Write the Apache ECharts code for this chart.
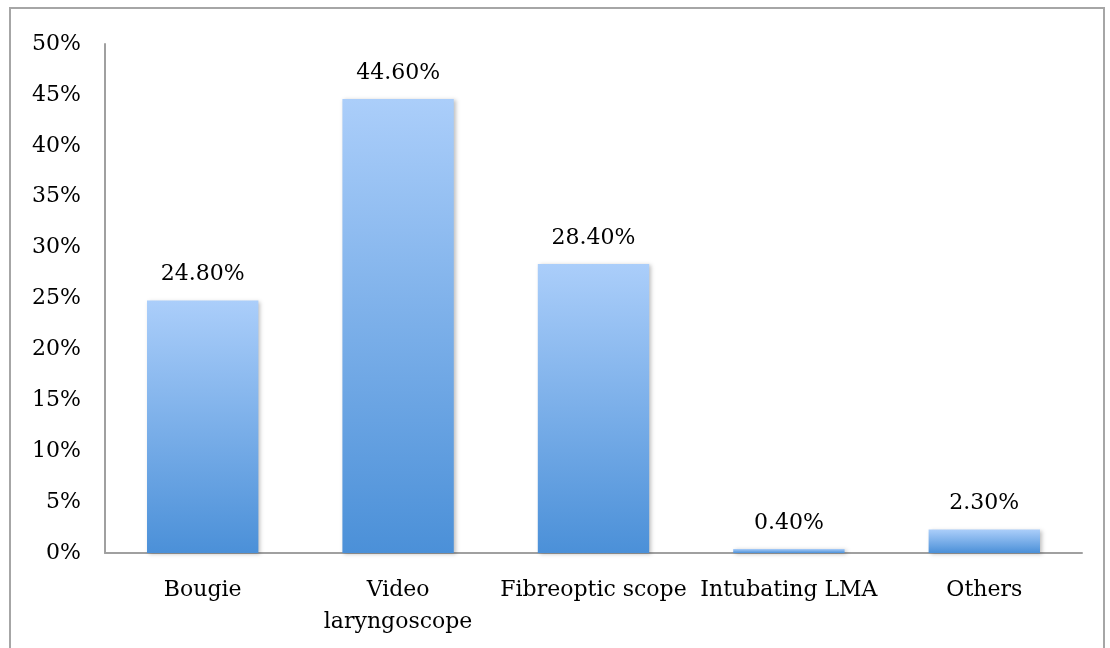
<!DOCTYPE html>
<html>
<head>
<meta charset="utf-8">
<script src="https://cdn.jsdelivr.net/npm/echarts@6/dist/echarts.min.js"></script>
<style>
  html, body { margin: 0; padding: 0; background: #fff; overflow: hidden; }
  #frame { position: absolute; left: 9px; top: 7px; width: 1096px; height: 700px;
           border: 2px solid #a6a6a6; box-sizing: border-box; }
  #chart { position: absolute; left: 0; top: 0; width: 1110px; height: 648px; }
</style>
</head>
<body>
<div id="frame"></div>
<div id="chart"></div>
<script>
// Device categories and their share (%)
const categories = ['Bougie', 'Video\nlaryngoscope', 'Fibreoptic scope', 'Intubating LMA', 'Others'];
const shares = [24.8, 44.6, 28.4, 0.4, 2.3];
const yTicks = { min: 0, max: 50, interval: 5 };

const FONT = '"DejaVu Serif", "Liberation Serif", serif';

const chart = echarts.init(document.getElementById('chart'));
chart.setOption({
  animation: false,
  grid: { left: 105, right: 28, top: 44, bottom: 95, containLabel: false },
  xAxis: {
    type: 'category',
    data: categories,
    axisLine: { lineStyle: { color: '#a0a0a0', width: 2 } },
    axisTick: { show: false },
    axisLabel: { color: '#000', fontFamily: FONT, fontSize: 22, margin: 21, lineHeight: 32, interval: 0 }
  },
  yAxis: {
    type: 'value',
    min: yTicks.min, max: yTicks.max, interval: yTicks.interval,
    axisLine: { show: true, lineStyle: { color: '#a0a0a0', width: 2 } },
    axisTick: { show: false },
    splitLine: { show: false },
    axisLabel: { color: '#000', fontFamily: FONT, fontSize: 22, margin: 24, padding: [6, 0, 0, 0],
                 formatter: v => v + '%' }
  },
  series: [{
    type: 'bar',
    data: shares,
    barWidth: '57%',
    itemStyle: {
      color: new echarts.graphic.LinearGradient(0, 0, 0, 1, [
        { offset: 0, color: '#abcefa' },
        { offset: 1, color: '#4b90d8' }
      ]),
      shadowColor: 'rgba(0,0,0,0.25)',
      shadowBlur: 4,
      shadowOffsetX: 2,
      shadowOffsetY: 1
    },
    label: {
      show: true,
      position: 'top',
      distance: 15,
      color: '#000',
      fontFamily: FONT,
      fontSize: 22,
      formatter: p => p.value.toFixed(2) + '%'
    }
  }]
});
</script>
</body>
</html>
